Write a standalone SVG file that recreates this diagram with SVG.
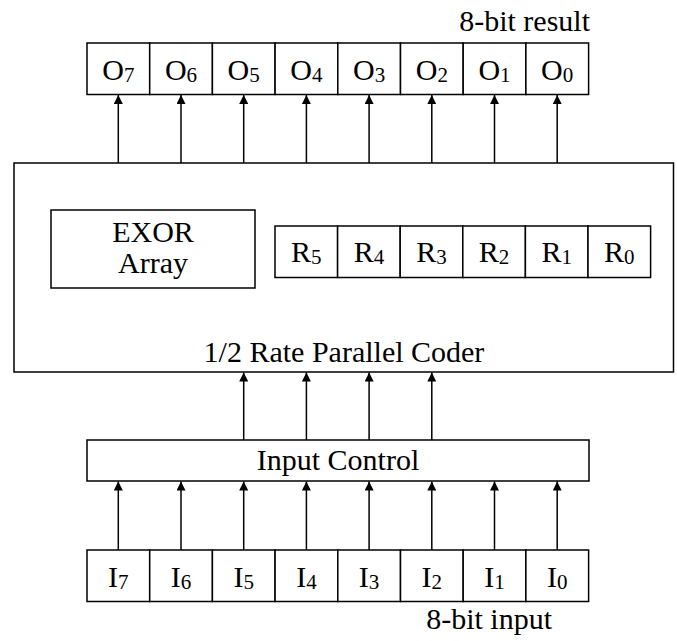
<svg xmlns="http://www.w3.org/2000/svg" width="677" height="641" viewBox="0 0 677 641">
<defs>
<marker id="ah" viewBox="0 0 10 10" refX="10" refY="5" markerWidth="10" markerHeight="9" markerUnits="userSpaceOnUse" orient="auto">
<path d="M0,0 L10,5 L0,10 Z" fill="#000"/>
</marker>
<style>
.box{fill:#fff;stroke:#000;stroke-width:1.5}
.t{font-family:'Liberation Serif','Times New Roman',serif;font-size:30px;fill:#000}
.c{text-anchor:middle}
.s{font-size:21px}
.w{stroke:#000;stroke-width:1.5;fill:none;marker-end:url(#ah)}
</style>
</defs>
<rect width="677" height="641" fill="#fff"/>
<g id="connectors">
<line class="w" x1="118.3" y1="163" x2="118.3" y2="95"/>
<line class="w" x1="181" y1="163" x2="181" y2="95"/>
<line class="w" x1="243.7" y1="163" x2="243.7" y2="95"/>
<line class="w" x1="306.4" y1="163" x2="306.4" y2="95"/>
<line class="w" x1="369.1" y1="163" x2="369.1" y2="95"/>
<line class="w" x1="431.8" y1="163" x2="431.8" y2="95"/>
<line class="w" x1="494.5" y1="163" x2="494.5" y2="95"/>
<line class="w" x1="557.2" y1="163" x2="557.2" y2="95"/>
<line class="w" x1="243.7" y1="440" x2="243.7" y2="372.5"/>
<line class="w" x1="306.4" y1="440" x2="306.4" y2="372.5"/>
<line class="w" x1="369.1" y1="440" x2="369.1" y2="372.5"/>
<line class="w" x1="431.8" y1="440" x2="431.8" y2="372.5"/>
<line class="w" x1="118.3" y1="550" x2="118.3" y2="481.5"/>
<line class="w" x1="181" y1="550" x2="181" y2="481.5"/>
<line class="w" x1="243.7" y1="550" x2="243.7" y2="481.5"/>
<line class="w" x1="306.4" y1="550" x2="306.4" y2="481.5"/>
<line class="w" x1="369.1" y1="550" x2="369.1" y2="481.5"/>
<line class="w" x1="431.8" y1="550" x2="431.8" y2="481.5"/>
<line class="w" x1="494.5" y1="550" x2="494.5" y2="481.5"/>
<line class="w" x1="557.2" y1="550" x2="557.2" y2="481.5"/>
</g>
<g id="output">
<text class="t" x="590" y="31" text-anchor="end">8-bit result</text>
<g id="O7"><rect class="box" x="87" y="43" width="62.7" height="51.5"/><text class="t c" x="118.3" y="80">O<tspan class="s" dy="2">7</tspan></text></g>
<g id="O6"><rect class="box" x="149.7" y="43" width="62.7" height="51.5"/><text class="t c" x="181" y="80">O<tspan class="s" dy="2">6</tspan></text></g>
<g id="O5"><rect class="box" x="212.4" y="43" width="62.7" height="51.5"/><text class="t c" x="243.7" y="80">O<tspan class="s" dy="2">5</tspan></text></g>
<g id="O4"><rect class="box" x="275.1" y="43" width="62.7" height="51.5"/><text class="t c" x="306.4" y="80">O<tspan class="s" dy="2">4</tspan></text></g>
<g id="O3"><rect class="box" x="337.8" y="43" width="62.7" height="51.5"/><text class="t c" x="369.1" y="80">O<tspan class="s" dy="2">3</tspan></text></g>
<g id="O2"><rect class="box" x="400.5" y="43" width="62.7" height="51.5"/><text class="t c" x="431.8" y="80">O<tspan class="s" dy="2">2</tspan></text></g>
<g id="O1"><rect class="box" x="463.2" y="43" width="62.7" height="51.5"/><text class="t c" x="494.5" y="80">O<tspan class="s" dy="2">1</tspan></text></g>
<g id="O0"><rect class="box" x="525.9" y="43" width="62.7" height="51.5"/><text class="t c" x="557.2" y="80">O<tspan class="s" dy="2">0</tspan></text></g>
</g>
<g id="coder">
<rect class="box" x="14" y="163" width="659.5" height="209"/>
<text class="t c" x="344" y="362">1/2 Rate Parallel Coder</text>
<g id="exor"><rect class="box" x="51" y="210" width="204" height="78"/><text class="t c" x="153" y="242">EXOR</text><text class="t c" x="153" y="273">Array</text></g>
<g id="R5"><rect class="box" x="275" y="226" width="62.6" height="51.5"/><text class="t c" x="306.3" y="262">R<tspan class="s" dy="2">5</tspan></text></g>
<g id="R4"><rect class="box" x="337.6" y="226" width="62.6" height="51.5"/><text class="t c" x="368.9" y="262">R<tspan class="s" dy="2">4</tspan></text></g>
<g id="R3"><rect class="box" x="400.2" y="226" width="62.6" height="51.5"/><text class="t c" x="431.5" y="262">R<tspan class="s" dy="2">3</tspan></text></g>
<g id="R2"><rect class="box" x="462.8" y="226" width="62.6" height="51.5"/><text class="t c" x="494.1" y="262">R<tspan class="s" dy="2">2</tspan></text></g>
<g id="R1"><rect class="box" x="525.4" y="226" width="62.6" height="51.5"/><text class="t c" x="556.7" y="262">R<tspan class="s" dy="2">1</tspan></text></g>
<g id="R0"><rect class="box" x="588" y="226" width="62.6" height="51.5"/><text class="t c" x="619.3" y="262">R<tspan class="s" dy="2">0</tspan></text></g>
</g>
<g id="input-control">
<rect class="box" x="87" y="440" width="502" height="41"/>
<text class="t c" x="338" y="470">Input Control</text>
</g>
<g id="input">
<g id="I7"><rect class="box" x="87" y="550" width="62.7" height="51.5"/><text class="t c" x="118.3" y="587">I<tspan class="s" dy="2">7</tspan></text></g>
<g id="I6"><rect class="box" x="149.7" y="550" width="62.7" height="51.5"/><text class="t c" x="181" y="587">I<tspan class="s" dy="2">6</tspan></text></g>
<g id="I5"><rect class="box" x="212.4" y="550" width="62.7" height="51.5"/><text class="t c" x="243.7" y="587">I<tspan class="s" dy="2">5</tspan></text></g>
<g id="I4"><rect class="box" x="275.1" y="550" width="62.7" height="51.5"/><text class="t c" x="306.4" y="587">I<tspan class="s" dy="2">4</tspan></text></g>
<g id="I3"><rect class="box" x="337.8" y="550" width="62.7" height="51.5"/><text class="t c" x="369.1" y="587">I<tspan class="s" dy="2">3</tspan></text></g>
<g id="I2"><rect class="box" x="400.5" y="550" width="62.7" height="51.5"/><text class="t c" x="431.8" y="587">I<tspan class="s" dy="2">2</tspan></text></g>
<g id="I1"><rect class="box" x="463.2" y="550" width="62.7" height="51.5"/><text class="t c" x="494.5" y="587">I<tspan class="s" dy="2">1</tspan></text></g>
<g id="I0"><rect class="box" x="525.9" y="550" width="62.7" height="51.5"/><text class="t c" x="557.2" y="587">I<tspan class="s" dy="2">0</tspan></text></g>
<text class="t" x="552" y="629" text-anchor="end">8-bit input</text>
</g>
</svg>
